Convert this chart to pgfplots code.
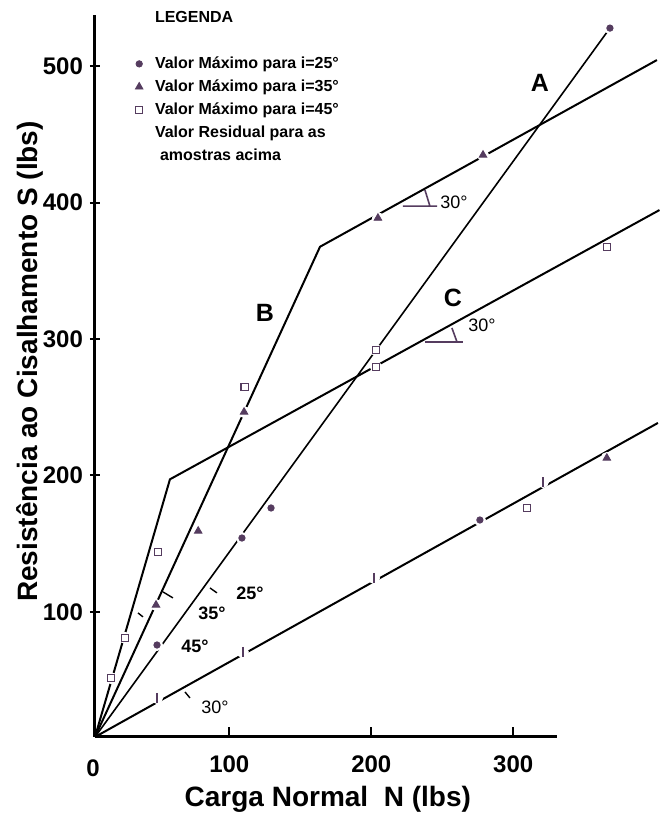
\documentclass[border=0pt]{standalone}
\usepackage{fontspec}
\setmainfont{Liberation Sans}
\usepackage{pgfplots}
\pgfplotsset{compat=1.18}
\definecolor{mk}{RGB}{85,60,95}
\pgfplotsset{dotlegend/.style={legend image code/.code={\draw[##1] plot coordinates {(0pt,0pt)};}}}
\begin{document}
\begin{tikzpicture}
\begin{axis}[
  scale only axis, width=231pt, height=361pt,
  xmin=5.4, xmax=330.8, ymin=8.4, ymax=537.4,
  clip=false,
  axis lines=left,
  axis line style={-, line width=1.5pt},
  xtick={100,200,300}, ytick={100,200,300,400,500},
  xtick align=inside, ytick align=center,
  major tick length=5pt,
  tick style={line width=1pt, black},
  ticklabel style={font=\fontsize{12}{12}\selectfont\bfseries},
  /pgf/number format/assume math mode=true,
  xticklabel style={yshift=-6pt},
  xlabel={Carga Normal~~N (lbs)},
  ylabel={Resistência ao Cisalhamento S (lbs)},
  label style={font=\fontsize{14}{14}\selectfont\bfseries},
  xlabel style={at={(axis description cs:0.504,-0.087)}, anchor=center},
  ylabel style={at={(axis description cs:-0.141,0.52)}, anchor=center},
  legend style={at={(axis description cs:0.0866,1.0125)}, anchor=north west,
    draw=none, fill=none, inner sep=0pt, row sep=0pt, column sep=4pt,
    font=\fontsize{8}{9}\selectfont\bfseries,
    cells={anchor=west, inner sep=0.5pt, text height=6pt, text depth=1.5pt}},
]
% linhas
\addplot[black, line width=1pt, forget plot] coordinates {(5.4,8.4) (58.2,197.2) (403,394.5)};
\addplot[black, line width=1pt, forget plot] coordinates {(5.4,8.4) (163.9,367.6) (401.2,504.4)};
\addplot[black, line width=0.8pt, forget plot] coordinates {(5.4,8.4) (368.1,527.8)};
\addplot[black, line width=1pt, forget plot] coordinates {(5.4,8.4) (401.9,238.5)};
% falhas nas linhas em volta dos pontos
\addplot[only marks, mark=*, mark size=2.8pt, white, forget plot] coordinates {
  (368.1,527.8) (108.9,154.2) (49.1,75.8) (129.4,176.2) (276.5,167.4)
  (204.7,388.6) (278.7,434.8) (110.4,246.5) (48.4,105.1) (365.9,212.8)
  (365.9,367.4) (203.3,291.9) (203.3,279.4) (110.9,264.8) (26.6,81.0) (16.7,51.6)
  (49.1,37.0) (109.5,70.7) (201.9,124.9) (320.9,195.2)};
% legenda
\addlegendimage{empty legend}\addlegendentry{LEGENDA}
\addlegendimage{empty legend}\addlegendentry{}
\addplot[only marks, mark=*, mark size=1.6pt, color=mk, dotlegend]
  coordinates {(368.1,527.8) (108.9,154.2) (49.1,75.8) (129.4,176.2) (276.5,167.4)};
\addlegendentry{Valor Máximo para i=25°}
\addplot[only marks, mark=triangle*, mark size=2.2pt, color=mk, dotlegend]
  coordinates {(204.7,388.6) (278.7,434.8) (110.4,246.5) (48.4,105.1) (78.1,159.3) (365.9,212.8)};
\addlegendentry{Valor Máximo para i=35°}
\addplot[only marks, mark=square*, mark size=1.8pt, color=mk, mark options={fill=white, line width=0.7pt}, dotlegend]
  coordinates {(365.9,367.4) (203.3,291.9) (203.3,279.4) (110.9,264.8) (49.8,143.9)
               (26.6,81.0) (16.7,51.6) (309.6,176.2)};
\addlegendentry{Valor Máximo para i=45°}
\addlegendimage{empty legend}\addlegendentry{Valor Residual para as}
\addlegendimage{empty legend}\addlegendentry{\rule{0pt}{8.5pt}\hspace{2.5pt}amostras acima}
% valores residuais
\addplot[only marks, mark=|, mark size=2.5pt, color=mk, mark options={line width=0.8pt}, forget plot]
  coordinates {(49.1,37.0) (109.5,70.7) (201.9,124.9) (320.9,195.2)};
% marcas de angulo
\draw[mk, line width=0.8pt] (222.3,397.4) -- (246.3,397.4) (237.8,409.2) -- (241.3,397.4);
\draw[mk, line width=0.8pt] (238.0,297.8) -- (264.6,297.8) (256.8,308.1) -- (260.4,297.8);
\draw[black, line width=0.7pt] (53.3,114.7) -- (60.3,110.3) (86.4,117.6) -- (91.3,114.0)
  (35.7,99.3) -- (39.2,96.4) (68.8,41.4) -- (72.3,37.0);
% rotulos
\node[font=\fontsize{12.5}{12.5}\selectfont\bfseries] at (318.8,487.5) {A};
\node[font=\fontsize{12.5}{12.5}\selectfont\bfseries] at (125.1,319.0) {B};
\node[font=\fontsize{12.5}{12.5}\selectfont\bfseries] at (257.5,330.0) {C};
\node[font=\fontsize{9}{9}\selectfont, anchor=west, inner sep=0pt] at (248.4,400.4) {30°};
\node[font=\fontsize{9}{9}\selectfont, anchor=west, inner sep=0pt] at (268.1,310.3) {30°};
\node[font=\fontsize{9}{9}\selectfont\bfseries] at (114.6,114.0) {25°};
\node[font=\fontsize{9}{9}\selectfont\bfseries] at (87.8,99.3) {35°};
\node[font=\fontsize{9}{9}\selectfont\bfseries] at (75.8,75.1) {45°};
\node[font=\fontsize{9}{9}\selectfont] at (89.9,30.4) {30°};
\node[font=\fontsize{12}{12}\selectfont\bfseries, xshift=-1pt, yshift=-15.5pt] at (5.4,8.4) {0};
\coordinate (bl) at (rel axis cs:-0.2056,-0.1122);
\coordinate (tr) at (rel axis cs:1.2229,1.0208);
\end{axis}
\pgfresetboundingbox
\path[use as bounding box] (bl) rectangle (tr);
\end{tikzpicture}
\end{document}
